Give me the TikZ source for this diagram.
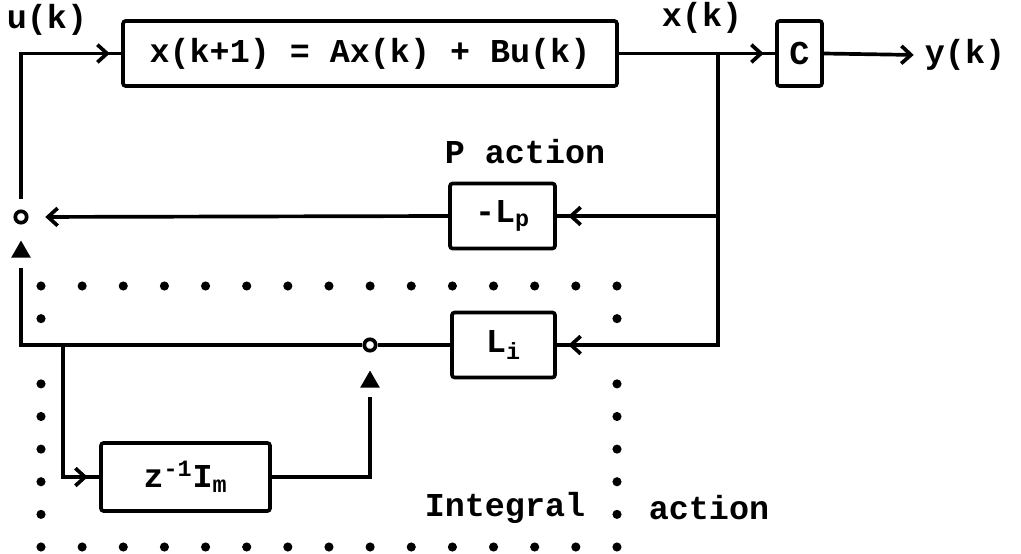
\documentclass[tikz,border=0pt]{standalone}
\usepackage{fontspec}
\setmainfont{Liberation Mono}
\usetikzlibrary{arrows.meta,positioning,shapes.geometric,decorations.markings}

\begin{document}
\begin{tikzpicture}[x=0.02cm, y=-0.02cm, line width=2.1pt, every node/.style={font=\bfseries\fontsize{19}{21}\selectfont},
  barb/.tip={Straight Barb[length=5.5pt,width=10pt]},
  b/.style={draw,rounded corners=1.5pt,minimum height=1.3cm,align=center},
  sj/.style={draw,circle,fill=white,inner sep=0pt,minimum size=6.5pt},
  tri/.style={fill,regular polygon,regular polygon sides=3,inner sep=0pt,minimum size=13pt},
  feed/.style={postaction={decorate},decoration={markings,mark=at position -6.5pt with {\arrow{barb}}}}]
\useasboundingbox (0,0) rectangle (1021,554);
\node[b,minimum width=9.88cm] (sys) at (370,53.5) {x(k+1) = Ax(k) + Bu(k)};
\node[b,minimum width=0.9cm,inner sep=0pt] (C) at (799.5,53.5) {C};
\node[b,minimum width=2.1cm] (Lp) at (502.5,216) {-L\textsubscript{p}};
\node[b,minimum width=2.06cm] (Li) at (503.5,345) {L\textsubscript{i}};
\node[b,minimum width=3.38cm,minimum height=1.36cm] (Z) at (185.5,477) {z\textsuperscript{-1}I\textsubscript{m}};
\node[sj] (s1) at (21,217) {};
\node[sj] (s2) at (370,345) {};
\node[tri] (t1) at (21,252) {};
\node[tri] (t2) at (370,382) {};
\node (u) at (47,20) {u(k)};
\node (x) at (702,18) {x(k)};
\node (y) at (965,55) {y(k)};
\node (P) at (525,152) {P action};
\node (I) at (505,508) {Integral};
\node (A) at (709,508) {action};
\coordinate (br) at (718,53.5);
\coordinate (br2) at (63,345);
\draw[feed,shorten <=6pt] (s1.north) |- (sys.west);
\draw[feed] (sys.east) -- (C.west);
\draw[-{barb},shorten >=2pt] (C.east) -- (y.west);
\draw[feed] (br) |- (Lp.east);
\draw[feed] (br) |- (Li.east);
\draw[-{barb},shorten >=9.5pt] (Lp.west) -- (s1.east);
\draw (Li.west) -- (s2.east);
\draw[shorten >=5pt] (s2.west) -| (t1.south);
\draw[feed] (br2) |- (Z.west);
\draw[shorten >=4pt] (Z.east) -| (t2.south);
\foreach \i in {0,...,14} {\fill ({41+41.14*\i},286) circle[radius=2.6pt]; \fill ({41+41.14*\i},547) circle[radius=2.6pt];}
\foreach \j in {1,3,4,5,6,7} {\fill (41,{286+32.625*\j}) circle[radius=2.6pt]; \fill (617,{286+32.625*\j}) circle[radius=2.6pt];}
\end{tikzpicture}
\end{document}
